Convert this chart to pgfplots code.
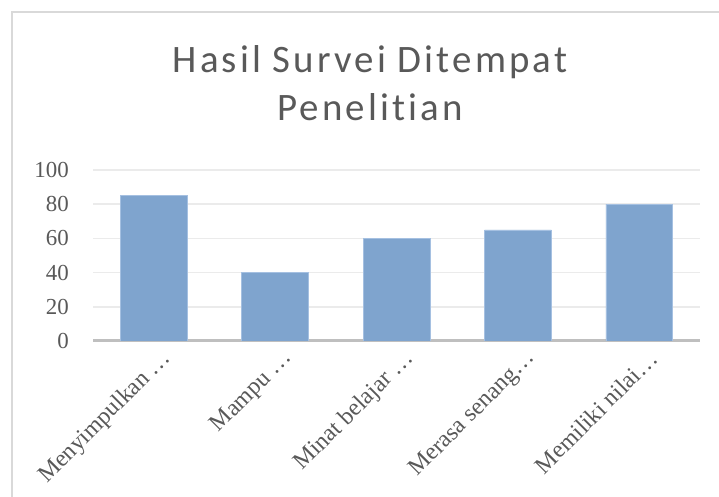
\documentclass[border=0pt]{standalone}
\usepackage{pgfplots}
\pgfplotsset{compat=1.18}
\usepackage{fontspec}
\setmainfont{Liberation Serif}
\newfontfamily\titlefont[LetterSpace=8, Ligatures={NoCommon}]{Carlito}
\definecolor{barblue}{RGB}{127,164,206}
\definecolor{baredge}{RGB}{165,192,225}
\definecolor{txtgrey}{RGB}{89,89,89}
\definecolor{gridgrey}{RGB}{235,235,235}
\definecolor{axisgrey}{RGB}{191,191,191}
\definecolor{framegrey}{RGB}{217,217,217}
\begin{document}
\begin{tikzpicture}[x=1bp,y=1bp]
\useasboundingbox (0,0) rectangle (719,497);
\fill[white] (0,0) rectangle (719,497);
\draw[framegrey, line width=2bp] (12,0) -- (12,485) -- (719,485);
\node[anchor=base, font=\titlefont\fontsize{39}{47}\selectfont, text=txtgrey, inner sep=0pt] at (370,424) {Hasil Survei Ditempat};
\node[anchor=base, font=\titlefont\fontsize{39}{47}\selectfont, text=txtgrey, inner sep=0pt] at (370,376) {Penelitian};
\begin{axis}[
  at={(93bp,156bp)}, anchor=south west,
  scale only axis, width=607bp, height=171bp,
  ymin=0, ymax=100, xmin=-0.5, xmax=4.5,
  ytick={0,20,...,100}, xtick={0,1,2,3,4},
  xticklabels={Menyimpulkan …, Mampu …, Minat belajar …, Merasa senang…, Memiliki nilai…},
  axis x line*=bottom, axis y line*=left,
  y axis line style={draw=none},
  x axis line style={axisgrey, line width=3bp},
  major tick length=0pt,
  ymajorgrids, grid style={gridgrey, line width=1.5bp},
  /pgf/number format/assume math mode=true,
  tick label style={font=\fontsize{23}{23}\selectfont, text=txtgrey},
  yticklabel style={anchor=east, inner sep=0pt, xshift=-24bp},
  xticklabel style={font=\fontsize{24}{24}\selectfont, inner sep=0pt, xshift=14bp, yshift=-14bp, rotate=45, anchor=east},
  ybar, bar width=0.55,
]
\addplot[fill=barblue, draw=baredge, line width=0.6bp] coordinates {(0,85) (1,40) (2,60) (3,65) (4,80)};
\end{axis}
\end{tikzpicture}
\end{document}
